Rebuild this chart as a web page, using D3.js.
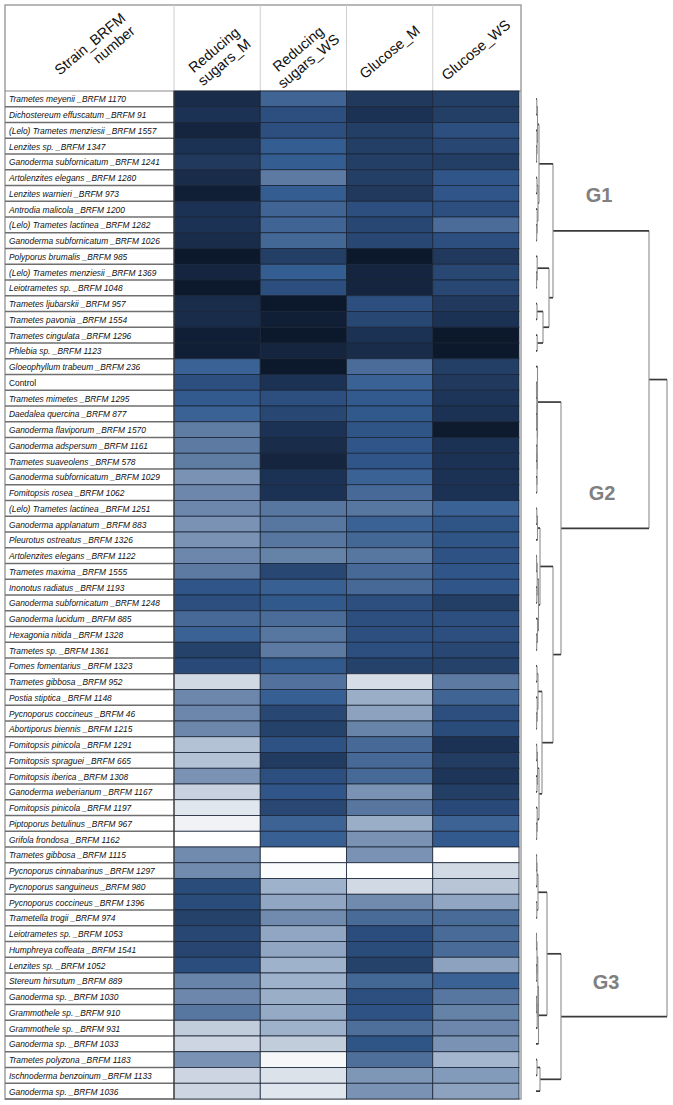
<!DOCTYPE html>
<html><head><meta charset="utf-8">
<script src="https://cdn.jsdelivr.net/npm/d3@7"></script>
<style>body{margin:0;background:#fff}svg{display:block}</style>
</head><body><svg id="c" width="673" height="1105"></svg>
<script>
// ---------------- DATA ----------------
const strains = [
"Trametes meyenii _BRFM 1170","Dichostereum effuscatum _BRFM 91","(Lelo) Trametes menziesii _BRFM 1557","Lenzites sp. _BRFM 1347",
"Ganoderma subfornicatum _BRFM 1241","Artolenzites elegans _BRFM 1280","Lenzites warnieri _BRFM 973","Antrodia malicola _BRFM 1200",
"(Lelo) Trametes lactinea _BRFM 1282","Ganoderma subfornicatum _BRFM 1026","Polyporus brumalis _BRFM 985","(Lelo) Trametes menziesii _BRFM 1369",
"Leiotrametes sp. _BRFM 1048","Trametes ljubarskii _BRFM 957","Trametes pavonia _BRFM 1554","Trametes cingulata _BRFM 1296",
"Phlebia sp. _BRFM 1123","Gloeophyllum trabeum _BRFM 236","Control","Trametes mimetes _BRFM 1295",
"Daedalea quercina _BRFM 877","Ganoderma flaviporum _BRFM 1570","Ganoderma adspersum _BRFM 1161","Trametes suaveolens _BRFM 578",
"Ganoderma subfornicatum _BRFM 1029","Fomitopsis rosea _BRFM 1062","(Lelo) Trametes lactinea _BRFM 1251","Ganoderma applanatum _BRFM 883",
"Pleurotus ostreatus _BRFM 1326","Artolenzites elegans _BRFM 1122","Trametes maxima _BRFM 1555","Inonotus radiatus _BRFM 1193",
"Ganoderma subfornicatum _BRFM 1248","Ganoderma lucidum _BRFM 885","Hexagonia nitida _BRFM 1328","Trametes sp. _BRFM 1361",
"Fomes fomentarius _BRFM 1323","Trametes gibbosa _BRFM 952","Postia stiptica _BRFM 1148","Pycnoporus coccineus _BRFM 46",
"Abortiporus biennis _BRFM 1215","Fomitopsis pinicola _BRFM 1291","Fomitopsis spraguei _BRFM 665","Fomitopsis iberica _BRFM 1308",
"Ganoderma weberianum _BRFM 1167","Fomitopsis pinicola _BRFM 1197","Piptoporus betulinus _BRFM 967","Grifola frondosa _BRFM 1162",
"Trametes gibbosa _BRFM 1115","Pycnoporus cinnabarinus _BRFM 1297","Pycnoporus sanguineus _BRFM 980","Pycnoporus coccineus _BRFM 1396",
"Trametella trogii _BRFM 974","Leiotrametes sp. _BRFM 1053","Humphreya coffeata _BRFM 1541","Lenzites sp. _BRFM 1052",
"Stereum hirsutum _BRFM 889","Ganoderma sp. _BRFM 1030","Grammothele sp. _BRFM 910","Grammothele sp. _BRFM 931",
"Ganoderma sp. _BRFM 1033","Trametes polyzona _BRFM 1183","Ischnoderma benzoinum _BRFM 1133","Ganoderma sp. _BRFM 1036"];

const measures = ["Reducing sugars_M","Reducing sugars_WS","Glucose_M","Glucose_WS"];
const firstHeader = "Strain_BRFM number";

// relative level (0 = lowest/white, 10 = highest/darkest)
const reducingSugarsM = [8.5,8,9,8,7.5,8.5,9.5,8,8,8.5, 10,9,10,8.5,8.5,9.5,9.5,4.7,6,5.2,
  4.7,3.4,3.5,3.4,2.7,3,3,2.7,2.7,3, 3.5,5.5,6,4.2,4.7,6.8,6.3,0.9,3,3,
  3,1.5,1.5,2.7,1.1,0.6,0.3,0,2.9,2.9, 6.2,6.2,6.8,6.5,6.6,6.1,3.1,3,3.6,1.2, 1,2.7,1,1];
const reducingSugarsWS = [4.5,6,6,5,5,3.5,5,4.5,4.5,4.3, 7,5,6,10,9.5,10,9,10,8,6,
  6.5,8,8.5,9,8,8,3.6,3.6,3.6,3.2, 6.5,4.8,5.3,4,3.6,3.5,5.3,3.8,4.9,6.5,
  6.8,5.8,7.3,6,5.5,6.5,4.6,4.8,0,0.1, 1.9,2.2,2.9,2.2,2.2,1.9,1.9,2,2.1,1.9, 1.2,0.2,0.7,0.6];
const glucoseM = [7.5,8,7,7,7,7,7.5,6,6.5,6.5, 10,9,9,6,6.5,8,8.5,4,4.7,5.2,
  5.3,5.6,5.5,5.5,4.7,4.2,3.6,4.7,4.3,3.6, 4.2,4.2,6,6,6,6,6.8,0.8,2,2.3,
  3.1,4.2,4.2,4.2,2.7,3.6,2,2.7,2.7,0, 0.9,2.9,4.1,6.1,6.2,6.8,4.3,6,5.8,3.9, 5.6,3.9,2.6,2.7];
const glucoseWS = [7,7,6,6.5,7,5.5,5.5,6,4,6, 7.5,6.5,6.5,7.5,8,10,10,7,7.5,7.8,
  8,9.8,8,8,8,8,4.7,5.6,5.6,5.8, 5.5,5.5,7,6,6,6.5,6.8,3.5,4.5,6,
  6.2,8,7.2,7.8,7,6.3,4.6,5.2,0,0.9, 1.4,2.2,4.1,4.1,4.1,2.3,4.7,3.6,3.2,3, 2.7,1.8,2.5,2.3];

const colorStops = ["#ffffff","#ccd5e1","#9aaec8","#6c87ab","#4b6c98","#345d92","#2c4f7f","#233f66","#1c3254","#152540","#0c182b"];

// dendrogram: [linkage distance, left, right]; leaves are row numbers (1-based)
const dendrogram = [131,
  [113,
    [17,
      [3, [1.5,[0.8,1,2],[1,3,[0.6,4,5]]], [2,[1,6,7],[1.2,8,[0.7,9,10]]]],
      [13, [1.2,11,[0.6,12,13]], [7,[1,14,15],[1.2,16,17]]]],
    [25,
      [1.5,18,[1.2,[0.8,[0.5,19,20],[0.6,21,22]],[1,[0.7,23,24],[0.9,25,26]]]],
      [17,
        [4,[1.5,[0.8,27,28],29],[2.5,[1.2,[0.6,30,31],[0.8,32,33]],[1.5,34,[0.7,35,36]]]],
        [6,[2,[1,37,38],[1.2,39,[0.6,40,41]]],[3,[1.5,[0.8,42,43],[1,44,45]],[1.2,46,[0.7,47,48]]]]]]],
  [25,
    [11,
      [2,[1,[0.6,49,50],51],[0.8,52,53]],
      [2.5,[1.8,[1,[0.5,54,55],[0.7,56,57]],[1.2,[0.6,58,59],60]],61]],
    [4,[1,62,63],64]]];
const groupLabels = ["G1","G2","G3"];

// ---------------- DRAW ----------------
const svg = d3.select("#c");
const values = [reducingSugarsM, reducingSugarsWS, glucoseM, glucoseWS];
const font = "'Liberation Sans', Arial, sans-serif";

const x = d3.scaleBand().domain(measures).range([174, 519]);
const y = d3.scaleBand().domain(d3.range(strains.length)).range([91, 1099]);
const color = d3.scaleLinear().domain(d3.range(colorStops.length)).range(colorStops).interpolate(d3.interpolateRgb);
const dx = d3.scaleLinear().domain([0, 131]).range([536, 667]);

// table frame
svg.append("rect").attr("x",5).attr("y",5).attr("width",516).attr("height",1094)
  .attr("fill","#fff").attr("stroke","#a0a0a0").attr("stroke-width",1.5);

// header separators
measures.forEach(m => {
  svg.append("line").attr("x1",x(m)).attr("x2",x(m)).attr("y1",5).attr("y2",91)
    .attr("stroke","#cfcfcf").attr("stroke-width",1);
});
svg.append("line").attr("x1",5).attr("x2",521).attr("y1",91).attr("y2",91).attr("stroke","#8a8a8a").attr("stroke-width",1.2);

// header labels
function header(text, cx, cy) {
  const parts = text.split(" ");
  const g = svg.append("g").attr("transform",`translate(${cx},${cy}) rotate(-40)`);
  const t = g.append("text").attr("font-family",font).attr("font-size",14.5).attr("fill","#111")
    .attr("text-anchor","middle").attr("dominant-baseline","central");
  if (parts.length === 1) t.append("tspan").attr("x",0).attr("y",0).text(parts[0]);
  else parts.forEach((p,i) => t.append("tspan").attr("x", (text===firstHeader && i===1) ? 18 : 0).attr("y", i===0 ? -8 : 8).text(p));
}
header(firstHeader, 95, 50);
const headerY = [56, 55, 52, 50];
measures.forEach((m,i) => header(m, x(m) + x.bandwidth()/2 + (i===0?2:0), headerY[i]));

// row label lines + labels
strains.forEach((s,i) => {
  svg.append("line").attr("x1",5).attr("x2",174).attr("y1",y(i)+y.bandwidth()).attr("y2",y(i)+y.bandwidth())
    .attr("stroke","#6f6f6f").attr("stroke-width",1.3);
  svg.append("text").attr("x",9).attr("y",y(i)+y.bandwidth()/2+0.5)
    .attr("dominant-baseline","central").attr("font-family",font).attr("font-size",8.4)
    .attr("font-style", s === "Control" ? "normal" : "italic").attr("fill","#111").text(s);
});

// heatmap cells
measures.forEach((m,j) => {
  svg.append("g").selectAll("rect").data(values[j]).join("rect")
    .attr("x", x(m)).attr("y",(d,i)=>y(i)).attr("width",x.bandwidth()).attr("height",y.bandwidth())
    .attr("fill", d => color(d)).attr("stroke","#1b2638").attr("stroke-width",0.8);
});
svg.append("line").attr("x1",174).attr("x2",174).attr("y1",91).attr("y2",1099).attr("stroke","#444").attr("stroke-width",1.2);

// dendrogram
function layout(node) {
  if (typeof node === "number") return {h:0, y: y(node-1) + y.bandwidth()/2};
  const A = layout(node[1]), B = layout(node[2]);
  return {h: node[0], y: (A.y + B.y)/2, children:[A,B]};
}
const root = layout(dendrogram);
const dg = svg.append("g");
(function draw(n) {
  if (!n.children) return;
  const [A,B] = n.children;
  dg.append("line").attr("x1",dx(n.h)).attr("x2",dx(n.h)).attr("y1",A.y).attr("y2",B.y)
    .attr("stroke","#8c8c8c").attr("stroke-width",1.1);
  [A,B].forEach(c => {
    dg.append("line").attr("x1",dx(c.h)).attr("x2",dx(n.h)).attr("y1",c.y).attr("y2",c.y)
      .attr("stroke","#3a3a3a").attr("stroke-width",1.7);
    draw(c);
  });
})(root);

// group labels
const gNodes = [root.children[0].children[0], root.children[0].children[1], root.children[1]];
const gOffsets = [[46,-29],[41,-28],[45,-28]];
groupLabels.forEach((g,i) => {
  svg.append("text").attr("x", dx(gNodes[i].h) + gOffsets[i][0]).attr("y", gNodes[i].y + gOffsets[i][1])
    .attr("font-family",font).attr("font-weight","bold").attr("font-size",20).attr("fill","#808080")
    .attr("text-anchor","middle").text(g);
});
</script></body></html>
